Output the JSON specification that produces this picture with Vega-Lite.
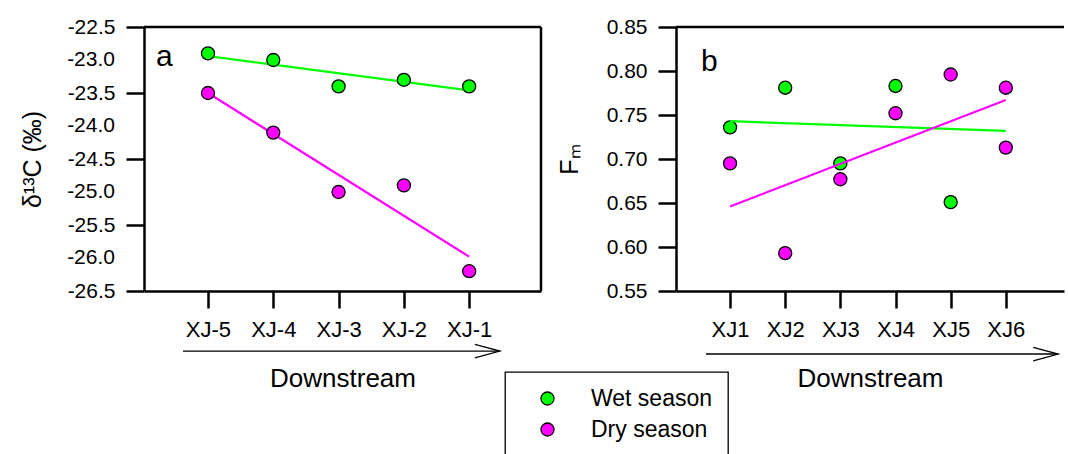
{
  "$schema": "https://vega.github.io/schema/vega-lite/v6.json",
  "background": "white",
  "padding": {"left": 20, "top": 16, "right": 0, "bottom": 0},
  "config": {
    "font": "Liberation Sans",
    "view": {"stroke": null},
    "axis": {
      "grid": false,
      "domainColor": "black",
      "domainWidth": 2.5,
      "tickColor": "black",
      "tickWidth": 2.5,
      "labelColor": "black",
      "titleColor": "black",
      "labelFont": "Liberation Sans",
      "titleFont": "Liberation Sans",
      "titleFontWeight": "normal",
      "labelOverlap": false
    },
    "legend": {"strokeWidth": 1.3},
    "title": {"font": "Liberation Sans", "fontWeight": "normal", "color": "black"}
  },
  "datasets": {
    "ptsA": [
      {"site": "XJ-5", "pos": 1, "season": "Wet season", "val": -22.9},
      {"site": "XJ-4", "pos": 2, "season": "Wet season", "val": -23.0},
      {"site": "XJ-3", "pos": 3, "season": "Wet season", "val": -23.4},
      {"site": "XJ-2", "pos": 4, "season": "Wet season", "val": -23.3},
      {"site": "XJ-1", "pos": 5, "season": "Wet season", "val": -23.4},
      {"site": "XJ-5", "pos": 1, "season": "Dry season", "val": -23.5},
      {"site": "XJ-4", "pos": 2, "season": "Dry season", "val": -24.1},
      {"site": "XJ-3", "pos": 3, "season": "Dry season", "val": -25.0},
      {"site": "XJ-2", "pos": 4, "season": "Dry season", "val": -24.9},
      {"site": "XJ-1", "pos": 5, "season": "Dry season", "val": -26.2}
    ],
    "fitA": [
      {"season": "Wet season", "pos": 1, "val": -22.94},
      {"season": "Wet season", "pos": 5, "val": -23.46},
      {"season": "Dry season", "pos": 1, "val": -23.5},
      {"season": "Dry season", "pos": 5, "val": -25.98}
    ],
    "whole": [
      {"tick": -26, "lab": "-26.0"},
      {"tick": -25, "lab": "-25.0"},
      {"tick": -24, "lab": "-24.0"},
      {"tick": -23, "lab": "-23.0"}
    ],
    "arrowA": [{"pos": 0.617, "pos2": 5.47, "val": -27.41}],
    "ptsB": [
      {"site": "XJ1", "pos": 1, "season": "Wet season", "val": 0.736},
      {"site": "XJ2", "pos": 2, "season": "Wet season", "val": 0.781},
      {"site": "XJ3", "pos": 3, "season": "Wet season", "val": 0.695},
      {"site": "XJ4", "pos": 4, "season": "Wet season", "val": 0.783},
      {"site": "XJ5", "pos": 5, "season": "Wet season", "val": 0.651},
      {"site": "XJ1", "pos": 1, "season": "Dry season", "val": 0.695},
      {"site": "XJ2", "pos": 2, "season": "Dry season", "val": 0.593},
      {"site": "XJ3", "pos": 3, "season": "Dry season", "val": 0.677},
      {"site": "XJ4", "pos": 4, "season": "Dry season", "val": 0.752},
      {"site": "XJ5", "pos": 5, "season": "Dry season", "val": 0.796},
      {"site": "XJ6", "pos": 6, "season": "Dry season", "val": 0.781},
      {"site": "XJ6", "pos": 6, "season": "Dry season", "val": 0.713}
    ],
    "fitB": [
      {"season": "Wet season", "pos": 1, "val": 0.743},
      {"season": "Wet season", "pos": 6, "val": 0.732},
      {"season": "Dry season", "pos": 1, "val": 0.646},
      {"season": "Dry season", "pos": 6, "val": 0.767}
    ],
    "arrowB": [{"pos": 0.564, "pos2": 6.95, "val": 0.4784}]
  },
  "hconcat": [
    {
      "width": 397,
      "height": 264,
      "title": {"text": "a", "anchor": "start", "frame": "group", "orient": "top", "offset": -80, "dx": 12, "fontSize": 30, "baseline": "alphabetic"},
      "layer": [
        {
          "data": {"name": "arrowA"},
          "mark": {"type": "rule", "color": "black", "strokeWidth": 1.3},
          "encoding": {
            "x": {"field": "pos", "type": "quantitative", "scale": {"domain": [0.02, 6.1], "nice": false, "zero": false}},
            "x2": {"field": "pos2"},
            "y": {"field": "val", "type": "quantitative", "scale": {"domain": [-26.5, -22.5], "nice": false, "zero": false}}
          }
        },
        {
          "data": {"name": "arrowA"},
          "mark": {"type": "point", "shape": "M-1,-0.27L0,0L-1,0.27", "filled": false, "stroke": "black", "strokeWidth": 1.3, "size": 2500, "opacity": 1},
          "encoding": {
            "x": {"field": "pos2", "type": "quantitative", "scale": {"domain": [0.02, 6.1], "nice": false, "zero": false}},
            "y": {"field": "val", "type": "quantitative", "scale": {"domain": [-26.5, -22.5], "nice": false, "zero": false}}
          }
        },
        {
          "data": {"values": [{}]},
          "mark": {"type": "rule", "color": "black", "strokeWidth": 2.5},
          "encoding": {"y": {"datum": -22.5, "type": "quantitative", "scale": {"domain": [-26.5, -22.5], "nice": false, "zero": false}}}
        },
        {
          "data": {"values": [{}]},
          "mark": {"type": "rule", "color": "black", "strokeWidth": 2.5},
          "encoding": {"x": {"datum": 6.1, "type": "quantitative", "scale": {"domain": [0.02, 6.1], "nice": false, "zero": false}}}
        },
        {
          "data": {"name": "whole"},
          "mark": {"type": "text", "align": "right", "baseline": "middle", "dx": -29, "fontSize": 21, "font": "Liberation Sans", "color": "black"},
          "encoding": {
            "x": {"datum": 0.02, "type": "quantitative", "scale": {"domain": [0.02, 6.1], "nice": false, "zero": false}},
            "y": {"field": "tick", "type": "quantitative", "scale": {"domain": [-26.5, -22.5], "nice": false, "zero": false}},
            "text": {"field": "lab", "type": "nominal"}
          }
        },
        {
          "data": {"name": "fitA"},
          "mark": {"type": "line", "strokeWidth": 2.2},
          "encoding": {
            "x": {"field": "pos", "type": "quantitative", "scale": {"domain": [0.02, 6.1], "nice": false, "zero": false}},
            "y": {"field": "val", "type": "quantitative", "scale": {"domain": [-26.5, -22.5], "nice": false, "zero": false}},
            "detail": {"field": "season", "type": "nominal"},
            "stroke": {"condition": {"test": "datum.season === 'Wet season'", "value": "#00ff00"}, "value": "#ff00ff"}
          }
        },
        {
          "data": {"name": "ptsA"},
          "mark": {"type": "point", "filled": true, "size": 170, "stroke": "black", "strokeWidth": 1.3, "opacity": 1},
          "encoding": {
            "x": {
              "field": "pos", "type": "quantitative",
              "scale": {"domain": [0.02, 6.1], "nice": false, "zero": false},
              "axis": {
                "values": [1, 2, 3, 4, 5],
                "labelExpr": "['XJ-5', 'XJ-4', 'XJ-3', 'XJ-2', 'XJ-1'][datum.value - 1]",
                "tickSize": 17,
                "labelPadding": 11,
                "labelFontSize": 22,
                "labelOverlap": false,
                "title": "Downstream",
                "titleFontSize": 26,
                "titlePadding": 25
              }
            },
            "y": {
              "field": "val", "type": "quantitative",
              "scale": {"domain": [-26.5, -22.5], "nice": false, "zero": false},
              "axis": {
                "values": [-26.5, -26.25, -26, -25.75, -25.5, -25.25, -25, -24.75, -24.5, -24.25, -24, -23.75, -23.5, -23.25, -23, -22.75, -22.5],
                "labelExpr": "indexof([-26.5, -25.5, -24.5, -23.5, -22.5], datum.value) >= 0 ? (datum.value < 0 ? '-' : '') + format(abs(datum.value), '.1f') : ''",
                "tickSize": {"condition": {"test": "indexof([-26.5, -26, -25.5, -25, -24.5, -24, -23.5, -23, -22.5], datum.value) >= 0", "value": 18}, "value": 7},
                "labelFontSize": {"condition": {"test": "indexof([-26.5, -25.5, -24.5, -23.5, -22.5], datum.value) >= 0", "value": 21}, "value": 1},
                "labelPadding": 11,
                "labelOverlap": false,
                "labelBound": false,
                "title": "δ¹³C (‰)",
                "titleFontSize": 25,
                "titlePadding": 22
              }
            },
            "fill": {
              "field": "season", "type": "nominal",
              "scale": {"domain": ["Wet season", "Dry season"], "range": ["#00ff00", "#ff00ff"]},
              "legend": {
                "title": null, "orient": "none", "legendX": 361, "legendY": 345,
                "strokeColor": "black", "fillColor": "white", "padding": 15,
                "symbolType": "circle", "symbolSize": 170, "symbolStrokeColor": "black", "symbolStrokeWidth": 1.3,
                "symbolOffset": 16, "labelOffset": 32, "labelFont": "Liberation Sans", "labelFontSize": 23,
                "labelColor": "black", "rowPadding": 7
              }
            }
          }
        }
      ]
    },
    {
      "width": 388,
      "height": 264,
      "title": {"text": "b", "anchor": "start", "frame": "group", "orient": "top", "offset": -85, "dx": 25, "fontSize": 30, "baseline": "alphabetic"},
      "layer": [
        {
          "data": {"name": "arrowB"},
          "mark": {"type": "rule", "color": "black", "strokeWidth": 1.3},
          "encoding": {
            "x": {"field": "pos", "type": "quantitative", "scale": {"domain": [0.02, 7.055], "nice": false, "zero": false}},
            "x2": {"field": "pos2"},
            "y": {"field": "val", "type": "quantitative", "scale": {"domain": [0.55, 0.85], "nice": false, "zero": false}}
          }
        },
        {
          "data": {"name": "arrowB"},
          "mark": {"type": "point", "shape": "M-1,-0.27L0,0L-1,0.27", "filled": false, "stroke": "black", "strokeWidth": 1.3, "size": 2500, "opacity": 1},
          "encoding": {
            "x": {"field": "pos2", "type": "quantitative", "scale": {"domain": [0.02, 7.055], "nice": false, "zero": false}},
            "y": {"field": "val", "type": "quantitative", "scale": {"domain": [0.55, 0.85], "nice": false, "zero": false}}
          }
        },
        {
          "data": {"values": [{}]},
          "mark": {"type": "rule", "color": "black", "strokeWidth": 2.5},
          "encoding": {"y": {"datum": 0.85, "type": "quantitative", "scale": {"domain": [0.55, 0.85], "nice": false, "zero": false}}}
        },
        {
          "data": {"name": "ptsB"},
          "mark": {"type": "point", "filled": true, "size": 170, "stroke": "black", "strokeWidth": 1.3, "opacity": 1},
          "encoding": {
            "x": {
              "field": "pos", "type": "quantitative",
              "scale": {"domain": [0.02, 7.055], "nice": false, "zero": false},
              "axis": {
                "values": [1, 2, 3, 4, 5, 6],
                "labelExpr": "'XJ' + datum.value",
                "tickSize": 17,
                "labelPadding": 11,
                "labelFontSize": 22,
                "labelOverlap": false,
                "title": "Downstream",
                "titleFontSize": 26,
                "titlePadding": 25
              }
            },
            "y": {
              "field": "val", "type": "quantitative",
              "scale": {"domain": [0.55, 0.85], "nice": false, "zero": false},
              "axis": {
                "values": [0.55, 0.575, 0.6, 0.625, 0.65, 0.675, 0.7, 0.725, 0.75, 0.775, 0.8, 0.825, 0.85],
                "labelExpr": "abs(datum.value * 20 - round(datum.value * 20)) < 0.001 ? format(datum.value, '.2f') : ''",
                "tickSize": {"condition": {"test": "abs(datum.value * 20 - round(datum.value * 20)) < 0.001", "value": 18}, "value": 7},
                "labelFontSize": {"condition": {"test": "abs(datum.value * 20 - round(datum.value * 20)) < 0.001", "value": 21}, "value": 1},
                "labelPadding": 11,
                "labelOverlap": false,
                "labelBound": false,
                "title": "Fₘ",
                "titleFontSize": 25,
                "titlePadding": 24
              }
            },
            "fill": {
              "field": "season", "type": "nominal",
              "scale": {"domain": ["Wet season", "Dry season"], "range": ["#00ff00", "#ff00ff"]},
              "legend": {
                "title": null, "orient": "none", "legendX": 361, "legendY": 345,
                "strokeColor": "black", "fillColor": "white", "padding": 15,
                "symbolType": "circle", "symbolSize": 170, "symbolStrokeColor": "black", "symbolStrokeWidth": 1.3,
                "symbolOffset": 16, "labelOffset": 32, "labelFont": "Liberation Sans", "labelFontSize": 23,
                "labelColor": "black", "rowPadding": 7
              }
            }
          }
        },
        {
          "data": {"name": "fitB"},
          "mark": {"type": "line", "strokeWidth": 2.2},
          "encoding": {
            "x": {"field": "pos", "type": "quantitative", "scale": {"domain": [0.02, 7.055], "nice": false, "zero": false}},
            "y": {"field": "val", "type": "quantitative", "scale": {"domain": [0.55, 0.85], "nice": false, "zero": false}},
            "detail": {"field": "season", "type": "nominal"},
            "stroke": {"condition": {"test": "datum.season === 'Wet season'", "value": "#00ff00"}, "value": "#ff00ff"}
          }
        }
      ]
    }
  ],
  "bounds": "flush",
  "spacing": 135
}
